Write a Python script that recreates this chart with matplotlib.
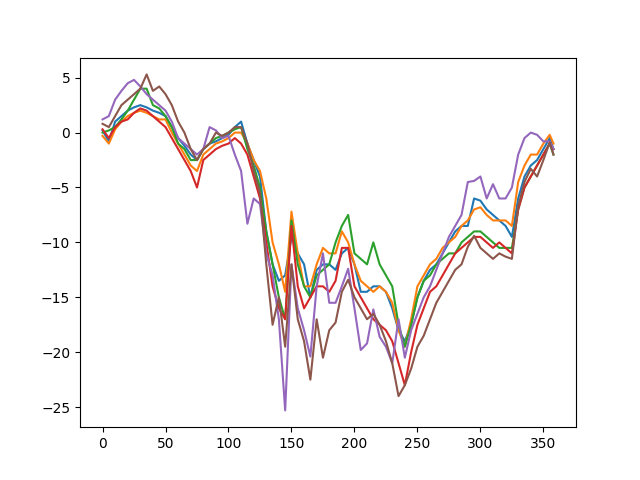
import numpy as np
import matplotlib
matplotlib.use("Agg")
import matplotlib.pyplot as plt

# day index, every 5 days
days = list(range(0, 356, 5)) + [358]

blue = [0.2, -0.8, 1.0, 1.5, 2.0, 2.3, 2.5, 2.3, 2.0, 1.8, 1.5, 0.5, -0.5, -1.2, -2.0, -2.5,
        -1.5, -1.0, -0.8, -0.5, -0.2, 0.5, 1.0, -1.0, -2.5, -4.0, -9.0, -12.0, -13.5, -13.0,
        -9.5, -11.0, -12.0, -15.0, -12.5, -12.0, -12.0, -12.5, -11.0, -10.5, -12.0, -14.5,
        -14.5, -14.0, -14.0, -14.5, -16.0, -18.0, -19.0, -17.5, -15.0, -13.5, -12.5, -12.0,
        -11.0, -10.0, -9.0, -8.5, -8.5, -6.0, -6.2, -7.0, -7.5, -8.0, -8.5, -9.5, -6.0,
        -4.0, -3.0, -2.5, -1.5, -0.5, -1.5]
orange = [-0.3, -1.0, 0.3, 1.0, 1.5, 1.8, 2.0, 1.8, 1.5, 1.2, 1.2, 0.0, -1.0, -2.0, -3.0, -3.5,
          -2.0, -1.5, -1.0, -0.8, -0.5, 0.0, 0.0, -1.0, -2.5, -3.5, -6.0, -10.0, -12.0, -14.5,
          -7.2, -11.0, -14.0, -14.0, -12.0, -10.5, -11.0, -11.0, -9.0, -10.0, -12.0, -13.5,
          -14.0, -14.5, -14.0, -14.5, -15.5, -18.0, -19.5, -17.0, -14.0, -13.0, -12.0, -11.5,
          -10.5, -10.0, -9.5, -8.5, -8.0, -7.0, -6.8, -7.5, -8.0, -8.0, -8.0, -8.5, -4.5,
          -3.0, -2.0, -2.0, -1.0, -0.2, -1.0]
green = [0.0, 0.2, 0.5, 1.2, 2.0, 3.0, 4.0, 4.0, 2.5, 2.2, 1.5, 0.5, -1.0, -1.5, -2.5, -2.5,
         -1.5, -1.0, -0.5, -0.3, 0.0, 0.3, 0.5, -1.5, -3.0, -5.0, -9.0, -12.0, -15.0, -17.0,
         -8.0, -12.0, -14.0, -15.0, -13.0, -12.5, -12.0, -10.0, -8.5, -7.5, -11.0, -11.5,
         -12.0, -10.0, -12.0, -13.0, -14.0, -17.5, -19.5, -17.5, -15.0, -13.5, -13.0, -12.0,
         -11.5, -11.0, -11.0, -10.0, -9.5, -9.0, -9.0, -9.5, -10.0, -10.5, -10.5, -10.5, -7.0,
         -5.0, -4.0, -3.0, -2.0, -1.0, -2.0]
red = [0.3, -0.5, 0.5, 1.0, 1.2, 1.8, 2.2, 2.0, 1.5, 1.0, 0.5, -0.5, -1.5, -2.5, -3.5, -5.0,
       -2.5, -2.0, -1.5, -1.2, -1.0, -0.5, -1.0, -2.0, -4.0, -6.0, -10.0, -14.0, -16.0, -17.0,
       -8.5, -14.0, -16.0, -15.0, -14.0, -14.0, -14.5, -13.5, -10.5, -10.5, -14.0, -15.0,
       -16.0, -17.0, -17.5, -18.0, -19.0, -21.0, -23.0, -20.0, -17.5, -16.0, -14.5, -14.0,
       -13.0, -12.0, -11.0, -10.5, -10.0, -9.5, -9.5, -10.0, -10.5, -10.0, -10.5, -11.0, -7.0,
       -5.0, -4.0, -3.0, -2.0, -1.0, -1.5]
purple = [1.2, 1.5, 3.0, 3.8, 4.5, 4.8, 4.2, 3.5, 3.0, 2.5, 2.0, 1.0, -0.5, -1.0, -1.5, -2.0,
          -1.5, 0.5, 0.2, -0.5, -0.3, -2.0, -3.5, -8.3, -6.0, -6.5, -11.0, -13.0, -17.0, -25.3,
          -12.0, -16.0, -18.0, -20.4, -14.0, -11.0, -15.5, -15.5, -14.0, -12.4, -16.0, -19.8,
          -19.2, -16.1, -18.6, -19.5, -21.0, -17.0, -20.5, -18.0, -16.5, -15.0, -14.0, -12.5,
          -11.0, -9.5, -8.5, -7.5, -4.5, -4.4, -4.0, -6.0, -4.7, -6.0, -6.0, -5.0, -2.0,
          -0.5, 0.0, -0.2, -0.8, -0.8, -1.5]
brown = [0.8, 0.5, 1.5, 2.5, 3.0, 3.5, 4.0, 5.3, 3.8, 4.2, 3.5, 2.5, 1.0, 0.0, -1.5, -2.5,
         -1.5, -1.0, 0.0, -0.3, 0.0, 0.5, 0.5, -1.0, -3.5, -5.5, -12.0, -17.5, -15.0, -19.5,
         -12.0, -17.0, -19.0, -22.5, -17.0, -20.5, -18.0, -17.3, -14.5, -13.4, -15.0, -16.0,
         -17.0, -16.5, -17.5, -19.0, -21.0, -24.0, -23.0, -21.5, -19.5, -18.5, -17.0, -15.5,
         -14.5, -13.5, -12.5, -12.0, -10.4, -9.4, -10.5, -11.0, -11.5, -11.0, -11.3, -11.5,
         -6.7, -4.5, -3.3, -4.0, -2.5, -0.9, -2.0]

fig, ax = plt.subplots(figsize=(6.4, 4.8), dpi=100)
for series in [blue, orange, green, red, purple, brown]:
    ax.plot(days, series)
fig.savefig("out.png")
